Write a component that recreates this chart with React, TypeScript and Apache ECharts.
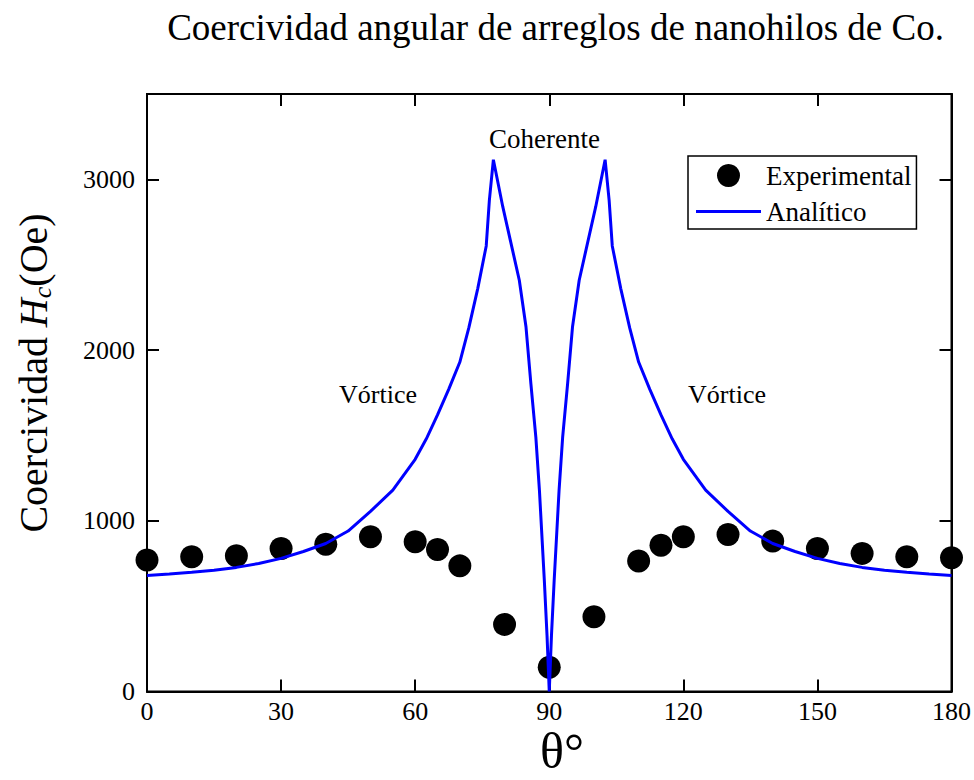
import { useEffect, useRef } from "react";
import * as echarts from "echarts";

// Measured coercivity of the Co nanowire arrays (angle in degrees, Hc in Oe)
const expAngles = [0, 10, 20, 30, 40, 50, 60, 65, 70, 80, 90, 100, 110, 115, 120, 130, 140, 150, 160, 170, 180];
const expHc = [770, 789, 795, 838, 863, 906, 877, 832, 736, 393, 142, 438, 764, 857, 906, 920, 881, 838, 809, 789, 783];

// Analytical model curve (vortex / coherent reversal)
const anaAngles = [
  0, 5, 10, 15, 20, 25, 30, 35, 40, 45, 50, 55, 60, 62.5, 65, 67.5, 70, 72, 74, 75.9, 76.6, 77.5,
  79.6, 81.8, 83.3, 84.8, 85.9, 87, 87.8, 88.9, 89.5, 90,
  90.5, 91.1, 92.2, 93, 94.1, 95.2, 96.7, 98.2, 100.4, 102.5,
  103.4, 104.1, 106, 108, 110, 112.5, 115, 117.5, 120, 125, 130, 135, 140, 145, 150, 155, 160, 165, 170, 175, 180,
];
const anaHc = [
  680, 688, 698, 710, 727, 750, 780, 820, 867, 940, 1055, 1180, 1360, 1480, 1620, 1770, 1930, 2130, 2360, 2610, 2877, 3115,
  2840, 2584, 2409, 2135, 1800, 1490, 1180, 650, 330, 0,
  330, 650, 1180, 1490, 1800, 2135, 2409, 2584, 2840, 3115,
  2877, 2610, 2360, 2130, 1930, 1770, 1620, 1480, 1360, 1180, 1055, 940, 867, 820, 780, 750, 727, 710, 698, 688, 680,
];

// Axis ranges
const xRange = [0, 180];
const xStep = 30;
const yRange = [0, 3500];
const yStep = 1000;

const FONT = "'Liberation Serif', 'Times New Roman', serif";
const BLACK = "#000000";
const BLUE = "#0000ff";

// Legend key for the model curve: a 65 x 3 bar, i.e. a 3 px line segment
const LINE_KEY = "path://M0,0 L65,0 L65,3 L0,3 Z";

export default function App() {
  const ref = useRef<HTMLDivElement>(null);

  useEffect(() => {
    document.body.style.margin = "0";
    if (!ref.current) return;
    const chart = echarts.init(ref.current, undefined, { renderer: "svg" });

    const axisLine = () => ({ show: true, onZero: false, lineStyle: { color: BLACK, width: 2 } });
    const axisTick = () => ({ show: true, inside: true, length: 12, lineStyle: { color: BLACK, width: 2 } });
    const tickFont = { color: BLACK, fontSize: 26, fontFamily: FONT };
    const plain = (v: number) => String(v);
    const yLabel = (v: number) => (v > 3000 ? "" : String(v));

    chart.setOption({
      animation: false,
      backgroundColor: "#ffffff",
      grid: {
        left: 147,
        top: 94,
        width: 806,
        height: 597.5,
        containLabel: false,
        show: true,
        borderColor: BLACK,
        borderWidth: 2,
        backgroundColor: "transparent",
      },
      xAxis: [
        {
          type: "value",
          min: xRange[0],
          max: xRange[1],
          interval: xStep,
          position: "bottom",
          axisLine: axisLine(),
          axisTick: axisTick(),
          axisLabel: { ...tickFont, margin: 7, formatter: plain },
          splitLine: { show: false },
        },
        {
          type: "value",
          min: xRange[0],
          max: xRange[1],
          interval: xStep,
          position: "top",
          axisLine: axisLine(),
          axisTick: axisTick(),
          axisLabel: { show: false },
          splitLine: { show: false },
        },
      ],
      yAxis: [
        {
          type: "value",
          min: yRange[0],
          max: yRange[1],
          interval: yStep,
          position: "left",
          axisLine: axisLine(),
          axisTick: axisTick(),
          axisLabel: { ...tickFont, margin: 12, formatter: yLabel },
          splitLine: { show: false },
        },
        {
          type: "value",
          min: yRange[0],
          max: yRange[1],
          interval: yStep,
          position: "right",
          axisLine: axisLine(),
          axisTick: axisTick(),
          axisLabel: { show: false },
          splitLine: { show: false },
        },
      ],
      legend: {
        data: [{ name: "Experimental" }, { name: "Analítico", icon: LINE_KEY }],
        orient: "vertical",
        left: 688,
        top: 156,
        padding: [6, 5, 4, 8],
        itemWidth: 65,
        itemHeight: 23,
        itemGap: 9,
        borderColor: BLACK,
        borderWidth: 1.5,
        backgroundColor: "#ffffff",
        textStyle: { color: BLACK, fontSize: 27, fontFamily: FONT },
      },
      series: [
        {
          name: "Experimental",
          type: "scatter",
          xAxisIndex: 0,
          yAxisIndex: 0,
          symbol: "circle",
          symbolSize: 23,
          itemStyle: { color: BLACK, opacity: 1 },
          data: expAngles.map((a, i) => [a, expHc[i]]),
          z: 2,
        },
        {
          name: "Analítico",
          type: "line",
          xAxisIndex: 0,
          yAxisIndex: 0,
          symbol: "none",
          showSymbol: false,
          lineStyle: { color: BLUE, width: 3 },
          itemStyle: { color: BLUE },
          data: anaAngles.map((a, i) => [a, anaHc[i]]),
          z: 3,
        },
      ],
      graphic: [
        {
          type: "text",
          x: 555.5,
          y: 27.5,
          style: {
            text: "Coercividad angular de arreglos de nanohilos de Co.",
            fontSize: 37,
            fontFamily: FONT,
            fill: BLACK,
            align: "center",
            verticalAlign: "middle",
          },
        },
        {
          type: "text",
          x: 544.5,
          y: 139,
          style: { text: "Coherente", fontSize: 27, fontFamily: FONT, fill: BLACK, align: "center", verticalAlign: "middle" },
        },
        {
          type: "text",
          x: 378,
          y: 394,
          style: { text: "Vórtice", fontSize: 26, fontFamily: FONT, fill: BLACK, align: "center", verticalAlign: "middle" },
        },
        {
          type: "text",
          x: 727,
          y: 394,
          style: { text: "Vórtice", fontSize: 26, fontFamily: FONT, fill: BLACK, align: "center", verticalAlign: "middle" },
        },
        {
          type: "text",
          x: 33,
          y: 373,
          rotation: Math.PI / 2,
          style: {
            text: "{a|Coercividad }{i|H}{s|c}{a|(Oe)}",
            fontFamily: FONT,
            fill: BLACK,
            align: "center",
            verticalAlign: "middle",
            rich: {
              a: { fontSize: 40, fontFamily: FONT, fill: BLACK, lineHeight: 44 },
              i: { fontSize: 40, fontFamily: FONT, fontStyle: "italic", fill: BLACK, lineHeight: 44 },
              s: { fontSize: 26, fontFamily: FONT, fontStyle: "italic", fill: BLACK, verticalAlign: "bottom", lineHeight: 44 },
            },
          },
        },
        {
          type: "text",
          x: 562,
          y: 751,
          style: {
            text: "θ°",
            fontSize: 50,
            fontFamily: FONT,
            fill: BLACK,
            align: "center",
            verticalAlign: "middle",
          },
        },
      ],
    });

    return () => chart.dispose();
  }, []);

  return <div ref={ref} style={{ width: 974, height: 780 }} />;
}
